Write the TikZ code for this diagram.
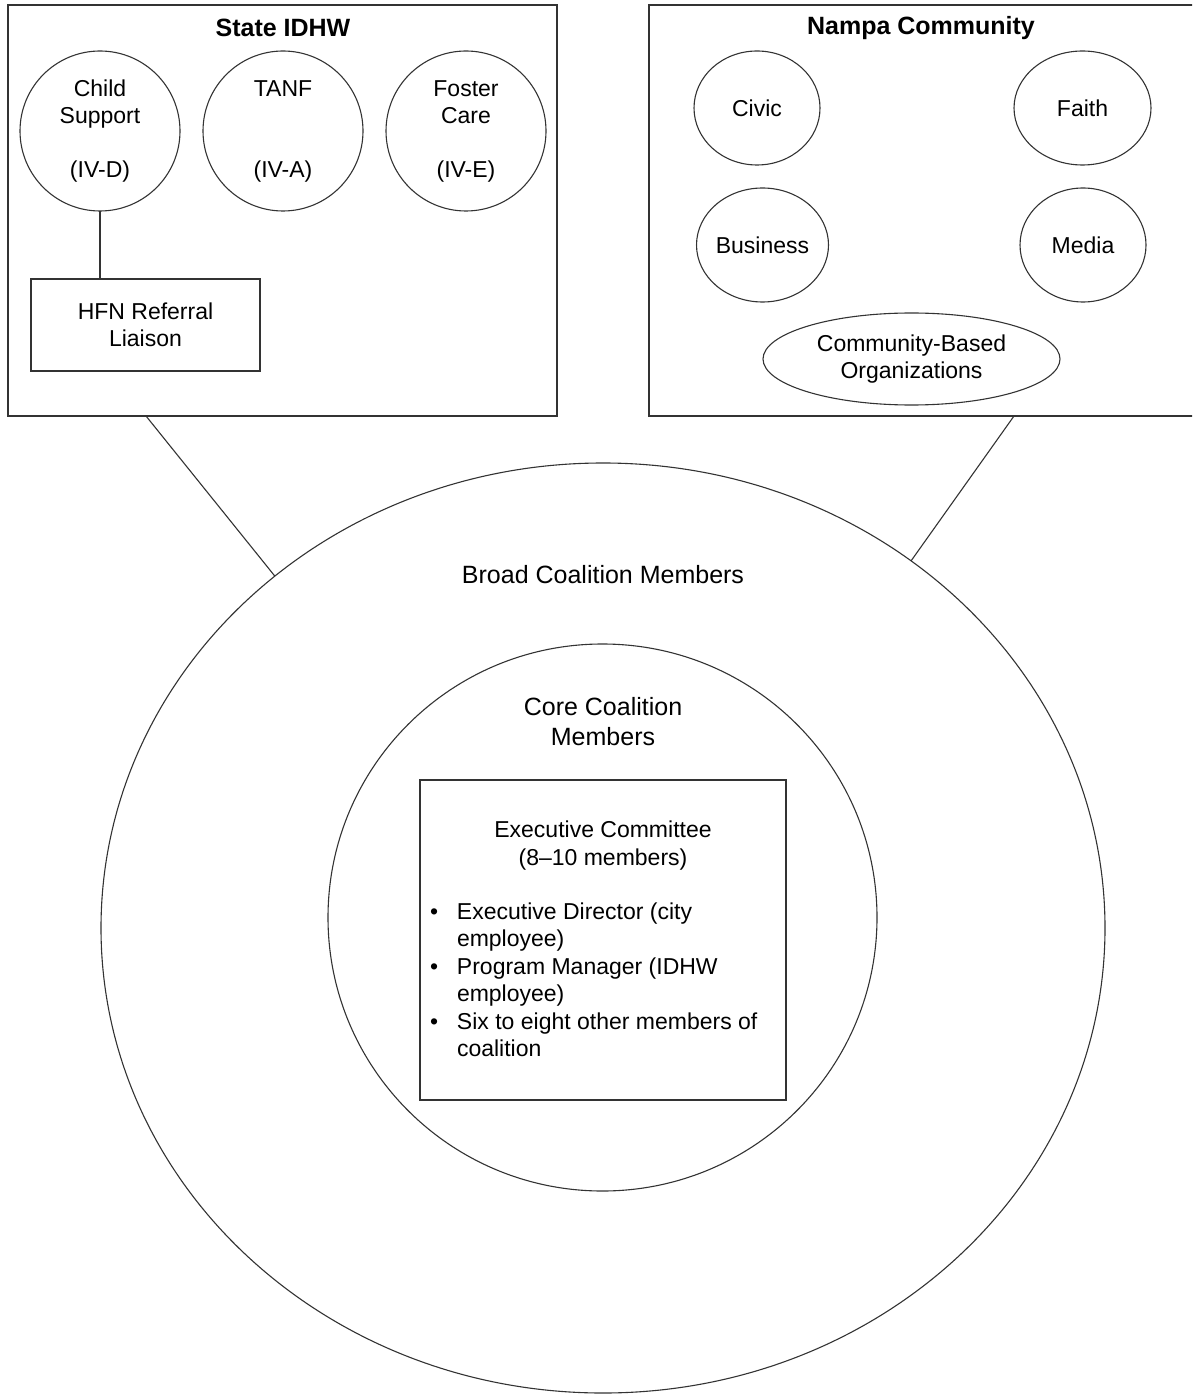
\documentclass[tikz,border=0pt]{standalone}
\usepackage{fontspec}
\setmainfont{Liberation Sans}
\usetikzlibrary{shapes.geometric}
\begin{document}
\begin{tikzpicture}[x=0.5pt,y=-0.5pt,
  every node/.style={inner sep=0pt, outer sep=0pt},
  ln/.style={draw=black!80, line width=0.55pt},
  box/.style={ln, rectangle},
  oval/.style={ln, ellipse},
  txt/.style={align=center, font=\fontsize{11.5}{13.5}\selectfont},
  bigtxt/.style={align=center, font=\fontsize{12.5}{15}\selectfont},
  title/.style={align=center, font=\fontsize{12.5}{15}\selectfont\bfseries},
  conn/.style={ln}
]
\useasboundingbox (0,0) rectangle (1192,1395);
\clip (0,0) rectangle (1192,1395);

% State IDHW box
\node[box, minimum width=274.5pt, minimum height=205.5pt] (idhw) at (282.5,210.5) {};
\node[title] (idhwtitle) at (283,28) {State IDHW};
\node[oval, minimum width=80pt, minimum height=80pt, txt] (cs) at (100,131) {Child\\Support\\\mbox{}\\(IV-D)};
\node[oval, minimum width=80pt, minimum height=80pt, txt] (tanf) at (283,131) {TANF\\\mbox{}\\\mbox{}\\(IV-A)};
\node[oval, minimum width=80pt, minimum height=80pt, txt] (fc) at (466,131) {Foster\\Care\\\mbox{}\\(IV-E)};
\node[box, minimum width=114.5pt, minimum height=46pt, txt] (hfn) at (145.5,325) {HFN Referral\\Liaison};
\draw[conn] (cs.south) -- (hfn.north -| cs.south);

% Nampa Community box (right edge lies outside the picture)
\node[box, minimum width=277pt, minimum height=205.5pt] (nampa) at (926,210.5) {};
\node[title] (nampatitle) at (921,28) {Nampa Community};
\node[oval, minimum width=63pt, minimum height=57pt, txt] (civic) at (757,108) {Civic};
\node[oval, minimum width=68.5pt, minimum height=57pt, txt] (faith) at (1082.5,108) {Faith};
\node[oval, minimum width=63pt, minimum height=57pt, txt] (business) at (762.5,245) {Business};
\node[oval, minimum width=63pt, minimum height=57pt, txt] (media) at (1083,245) {Media};
\node[oval, minimum width=148.5pt, minimum height=46pt, txt] (cbo) at (911.5,359) {Community-Based\\Organizations};

% Coalition circles
\node[oval, minimum width=502pt, minimum height=465pt] (broad) at (603,928) {};
\node[bigtxt] (broadtxt) at (603,575) {Broad Coalition Members};
\node[oval, minimum width=274.5pt, minimum height=273.5pt] (core) at (602.5,917.5) {};
\node[bigtxt] (coretxt) at (603,722) {Core Coalition\\Members};

% Executive committee
\node[box, minimum width=183pt, minimum height=160pt] (exec) at (603,940) {};
\node[txt, font=\fontsize{11.5}{14}\selectfont] (exechead) at (603,845.5) {Executive Committee\\(8--10 members)};
\node[anchor=north west, font=\fontsize{11.5}{13.75}\selectfont] (execlist) at (430,900) {%
  \renewcommand{\arraystretch}{1}%
  \begin{tabular}{@{}l@{}l@{}}
  \makebox[13.5pt][l]{•} & Executive Director (city\\
   & employee)\\
  \makebox[13.5pt][l]{•} & Program Manager (IDHW\\
   & employee)\\
  \makebox[13.5pt][l]{•} & Six to eight other members of\\
   & coalition
  \end{tabular}};

% Connectors
\coordinate (idhwfoot) at (146,416);
\coordinate (nampafoot) at (1014,416);
\draw[conn] (idhwfoot) -- (broad.133);
\draw[conn] (nampafoot) -- (broad.50.6);
\end{tikzpicture}
\end{document}
